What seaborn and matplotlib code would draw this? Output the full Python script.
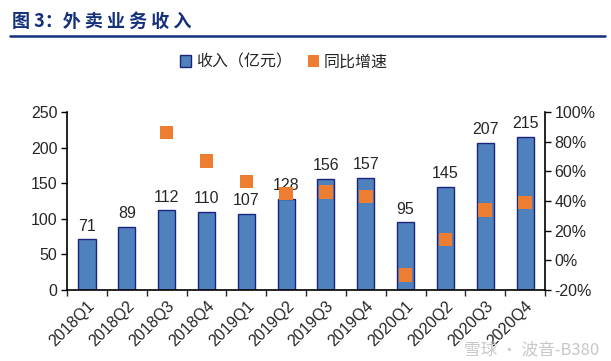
import numpy as np
import pandas as pd
import seaborn as sns
import matplotlib.pyplot as plt
from matplotlib.patches import Patch
from matplotlib.lines import Line2D

quarters = ["2018Q1", "2018Q2", "2018Q3", "2018Q4", "2019Q1", "2019Q2",
            "2019Q3", "2019Q4", "2020Q1", "2020Q2", "2020Q3", "2020Q4"]
revenue = [71, 89, 112, 110, 107, 128, 156, 157, 95, 145, 207, 215]
growth = [np.nan, np.nan, 86, 67, 53, 45, 46, 43, -10, 14, 34, 39]

BLUE = "#4F81BD"
EDGE = "#1A237E"
ORANGE = "#ED7D31"
NAVY = "#14307A"

sns.set_style("white")
plt.rcParams["font.family"] = ["Liberation Sans", "Noto Sans CJK SC", "DejaVu Sans"]

df = pd.DataFrame({"quarter": quarters, "revenue": revenue, "growth": growth})
df["pos"] = np.arange(len(df))

fig = plt.figure(figsize=(6.11, 3.61), dpi=100)
ax = fig.add_axes([0.1097, 0.1967, 0.7823, 0.4933])

sns.barplot(data=df, x="quarter", y="revenue", color=BLUE, width=0.43,
            edgecolor=EDGE, linewidth=1.0, saturation=1, ax=ax)
ax.set_xlim(-0.5, len(df) - 0.5)
ax.set_ylim(0, 250)
ax.set_yticks(range(0, 251, 50))
ax.set_xlabel("")
ax.set_ylabel("")
for i, v in enumerate(revenue):
    ax.text(i, v + 8, str(v), ha="center", va="bottom", fontsize=11.5)

ax2 = ax.twinx()
sns.scatterplot(data=df.dropna(), x="pos", y="growth", marker="s", s=95,
                color=ORANGE, edgecolor="none", ax=ax2, legend=False, zorder=5)
ax2.set_ylim(-20, 100)
ax2.set_yticks(range(-20, 101, 20))
ax2.set_yticklabels([f"{t}%" for t in range(-20, 101, 20)])
ax2.set_xlim(-0.5, len(df) - 0.5)
ax2.set_xlabel("")
ax2.set_ylabel("")

for a in (ax, ax2):
    a.spines["top"].set_visible(False)
    a.tick_params(labelsize=11.5, length=4, width=1, color="black", pad=3)
ax.spines["right"].set_visible(False)
ax2.spines["left"].set_visible(False)
ax2.spines["bottom"].set_visible(False)
for sp in ("left", "bottom"):
    ax.spines[sp].set_color("black")
    ax.spines[sp].set_linewidth(1.2)
ax2.spines["right"].set_color("black")
ax2.spines["right"].set_linewidth(1.2)
ax.tick_params(axis="y", left=True, direction="out")
ax2.tick_params(axis="y", right=True, direction="out")

# category boundary ticks on the x axis
ax.set_xticks(np.arange(len(df)))
ax.set_xticklabels(quarters, rotation=45, ha="right", rotation_mode="anchor")
ax.tick_params(axis="x", length=0, pad=6)
ax.set_xticks(np.arange(-0.5, len(df), 1), minor=True)
ax.tick_params(axis="x", which="minor", length=4, width=1, bottom=True, direction="out")

# title
fig.text(0.02, 0.94, "图 3：外 卖 业 务 收 入", fontsize=13, fontweight="bold",
         color=NAVY, family=["Noto Sans CJK SC"], va="center")
fig.add_artist(Line2D([0.016, 0.99], [0.9, 0.9], color=NAVY, lw=1.8))

handles = [Patch(facecolor=BLUE, edgecolor=EDGE, label="收入（亿元）"),
           Patch(facecolor=ORANGE, edgecolor="none", label="同比增速")]
fig.legend(handles=handles, loc="center", bbox_to_anchor=(0.465, 0.828), ncol=2,
           frameon=False, handlelength=0.7, handleheight=0.7,
           handletextpad=0.3, columnspacing=1.0,
           prop={"family": ["Noto Sans CJK SC"], "size": 11.5})

fig.text(0.98, 0.03, "雪球 · 波音-B380", fontsize=12, color="#C8C8C8",
         ha="right", va="center", family=["Noto Sans CJK SC"])

fig.savefig("out.png", dpi=100)
